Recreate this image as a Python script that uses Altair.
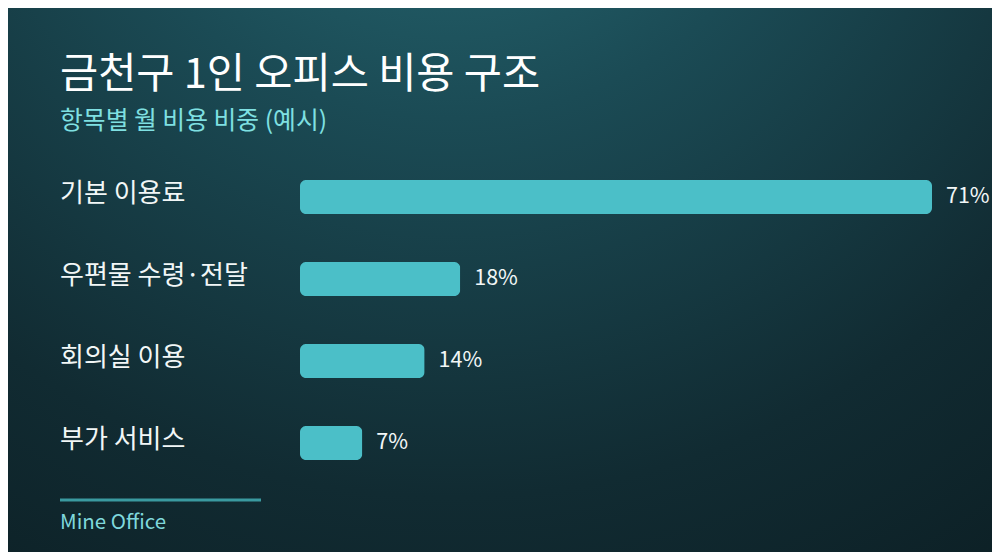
import altair as alt
import pandas as pd

# ---- data ----
categories = ["기본 이용료", "우편물 수령·전달", "회의실 이용", "부가 서비스"]
values = [71, 18, 14, 7]
value_labels = ["71%", "18%", "14%", "7%"]

title_text = "금천구 1인 오피스 비용 구조"
subtitle_text = "항목별 월 비용 비중 (예시)"
footer_text = "Mine Office"

W, H = 984, 544
FONT = "Noto Sans CJK KR"

df = pd.DataFrame({"category": categories, "value": values, "label": value_labels})

x_scale = alt.Scale(domain=[0, 71], range=[292, 924], nice=False, zero=True)
y_scale = alt.Scale(domain=categories, range=[148, 476], paddingInner=0.585, paddingOuter=0.2925)

grad = alt.Gradient(
    gradient="radial",
    stops=[
        alt.GradientStop(color="#29717b", offset=0),
        alt.GradientStop(color="#1b4b55", offset=0.35),
        alt.GradientStop(color="#112b32", offset=0.7),
        alt.GradientStop(color="#0b1c21", offset=1),
    ],
    x1=0.45, y1=-0.05, x2=0.45, y2=-0.05, r1=0, r2=1.1,
)

bg = alt.Chart(pd.DataFrame({"a": [0]})).mark_rect(fill=grad).encode(
    x=alt.value(0), x2=alt.value(W), y=alt.value(0), y2=alt.value(H)
)

base = alt.Chart(df)

bars = base.mark_bar(color="#4bbfc8", cornerRadius=6).encode(
    x=alt.X("value:Q", scale=x_scale, axis=None),
    y=alt.Y("category:N", scale=y_scale, sort=categories, axis=None),
)

cat_labels = base.mark_text(
    align="left", baseline="middle", font=FONT, fontSize=26, color="#f2f7f7", dy=-3
).encode(
    x=alt.value(52),
    y=alt.Y("category:N", scale=y_scale, sort=categories, axis=None),
    text="category:N",
)

val_labels = base.mark_text(
    align="left", baseline="middle", font=FONT, fontSize=21.5, color="#f2f7f7", dx=14
).encode(
    x=alt.X("value:Q", scale=x_scale, axis=None),
    y=alt.Y("category:N", scale=y_scale, sort=categories, axis=None),
    text="label:N",
)

title = alt.Chart(pd.DataFrame({"t": [title_text]})).mark_text(
    align="left", baseline="alphabetic", font=FONT, fontSize=41.5, color="#ffffff"
).encode(x=alt.value(52), y=alt.value(80), text="t:N")

subtitle = alt.Chart(pd.DataFrame({"t": [subtitle_text]})).mark_text(
    align="left", baseline="alphabetic", font=FONT, fontSize=24.8, color="#7fe0e2"
).encode(x=alt.value(52), y=alt.value(121), text="t:N")

rule = alt.Chart(pd.DataFrame({"a": [0]})).mark_rule(color="#3a9aa0", strokeWidth=3).encode(
    x=alt.value(52), x2=alt.value(253), y=alt.value(492)
)

footer = alt.Chart(pd.DataFrame({"t": [footer_text]})).mark_text(
    align="left", baseline="alphabetic", font=FONT, fontSize=20.5, color="#7fd8dc"
).encode(x=alt.value(52), y=alt.value(521), text="t:N")

chart = alt.layer(bg, bars, cat_labels, val_labels, title, subtitle, rule, footer).properties(
    width=W, height=H, padding=0, autosize=alt.AutoSizeParams(type="none"),
    background="#0e2329",
).configure_view(stroke=None)

chart.save("out.html", embed_options={"renderer": "svg", "actions": False})
